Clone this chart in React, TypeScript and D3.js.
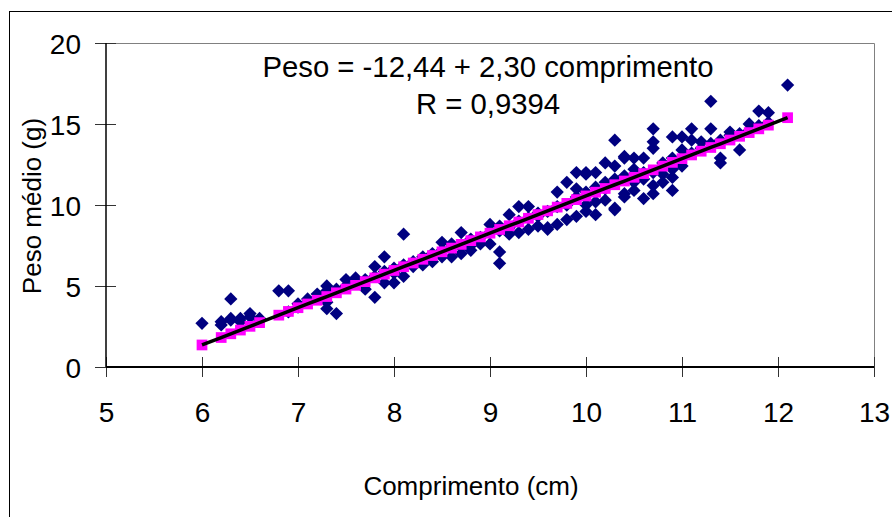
import React, { useRef, useEffect } from "react";
import * as d3 from "d3";

// observed points (comprimento cm, peso g)
const lengthCm = [
  6.0, 6.2, 6.2, 6.3, 6.3, 6.3, 6.4, 6.4, 6.5, 6.5, 6.6, 6.6,
  6.8, 6.9, 6.9, 7.0, 7.0, 7.1, 7.1, 7.2, 7.2, 7.3, 7.3, 7.3, 7.3,
  7.4, 7.4, 7.5, 7.5, 7.6, 7.6, 7.7, 7.7, 7.8, 7.8, 7.8, 7.9, 7.9, 7.9,
  8.0, 8.0, 8.0, 8.1, 8.1, 8.1, 8.2, 8.2, 8.3, 8.3, 8.4, 8.4,
  8.5, 8.5, 8.5, 8.6, 8.6, 8.6, 8.7, 8.7, 8.7, 8.8, 8.8, 8.8, 8.9, 8.9,
  9.0, 9.0, 9.0, 9.1, 9.1, 9.1, 9.1, 9.2, 9.2, 9.2, 9.3, 9.3, 9.3,
  9.4, 9.4, 9.4, 9.5, 9.5, 9.5, 9.6, 9.6, 9.6, 9.7, 9.7, 9.7,
  9.8, 9.8, 9.8, 9.9, 9.9, 9.9, 9.9, 10.0, 10.0, 10.0, 10.0, 10.0,
  10.1, 10.1, 10.1, 10.1, 10.2, 10.2, 10.2, 10.2, 10.3, 10.3, 10.3, 10.3, 10.3,
  10.4, 10.4, 10.4, 10.4, 10.4, 10.5, 10.5, 10.5, 10.5, 10.6, 10.6, 10.6, 10.6,
  10.7, 10.7, 10.7, 10.7, 10.7, 10.7, 10.8, 10.8, 10.8,
  10.9, 10.9, 10.9, 10.9, 10.9, 11.0, 11.0, 11.0, 11.1, 11.1, 11.1,
  11.2, 11.2, 11.3, 11.3, 11.3, 11.4, 11.4, 11.4, 11.5, 11.5, 11.6, 11.6,
  11.7, 11.7, 11.8, 11.8, 11.9, 11.9, 12.1,
];
const weightG = [
  2.7, 2.6, 2.8, 4.2, 3.0, 2.9, 3.0, 2.8, 3.3, 3.1, 3.0, 2.9,
  4.7, 4.7, 3.4, 3.7, 3.9, 4.0, 4.2, 4.5, 4.3, 5.0, 3.6, 4.0, 4.7,
  3.3, 4.8, 5.4, 5.0, 5.5, 5.2, 4.8, 5.4, 4.3, 6.2, 5.6, 6.8, 5.2, 5.9,
  5.2, 5.8, 6.1, 8.2, 6.3, 5.6, 6.2, 6.5, 6.3, 6.8, 6.5, 7.0,
  7.7, 6.8, 7.2, 6.8, 7.4, 7.6, 8.3, 7.4, 7.0, 7.2, 7.9, 7.5, 7.6, 8.0,
  8.8, 7.6, 8.3, 7.1, 6.4, 8.4, 8.7, 9.4, 8.2, 8.6, 9.9, 8.3, 9.0,
  9.9, 8.5, 9.2, 8.7, 9.5, 9.3, 8.5, 8.6, 9.6, 8.8, 10.8, 9.9,
  11.4, 9.1, 10.0, 9.3, 12.0, 10.5, 11.0, 9.6, 10.0, 11.9, 12.0, 10.8,
  9.4, 10.2, 12.0, 11.1, 10.3, 12.6, 11.4, 11.0, 14.0, 9.7, 9.8, 12.4, 11.6,
  10.7, 12.9, 10.5, 11.8, 13.0, 12.9, 12.2, 11.4, 10.9, 12.9, 10.4, 12.0, 11.6,
  14.7, 13.9, 13.5, 10.7, 11.2, 12.0, 11.4, 11.9, 12.6,
  10.9, 11.7, 12.2, 12.9, 14.2, 14.2, 12.4, 13.4, 14.7, 14.0, 13.2,
  13.9, 13.5, 16.4, 14.7, 13.8, 12.6, 12.9, 14.0, 14.5, 14.3, 13.4, 14.4,
  15.0, 14.6, 15.8, 14.9, 15.7, 15.1, 17.4,
];

// fitted values (Peso = -12,44 + 2,30 comprimento)
const fitLength = [
  6.0, 6.2, 6.3, 6.4, 6.5, 6.6, 6.8, 6.9, 7.0, 7.1, 7.2, 7.3, 7.4, 7.5,
  7.6, 7.7, 7.8, 7.9, 8.0, 8.1, 8.2, 8.3, 8.4, 8.5, 8.6, 8.7, 8.8, 8.9,
  9.0, 9.1, 9.2, 9.3, 9.4, 9.5, 9.6, 9.7, 9.8, 9.9, 10.0, 10.1, 10.2,
  10.3, 10.4, 10.5, 10.6, 10.7, 10.8, 10.9, 11.0, 11.1, 11.2, 11.3,
  11.4, 11.5, 11.6, 11.7, 11.8, 11.9, 12.1,
];
const fitWeight = [
  1.36, 1.82, 2.05, 2.28, 2.51, 2.74, 3.2, 3.43, 3.66, 3.89, 4.12, 4.35, 4.58, 4.81,
  5.04, 5.27, 5.5, 5.73, 5.96, 6.19, 6.42, 6.65, 6.88, 7.11, 7.34, 7.57, 7.8, 8.03,
  8.26, 8.49, 8.72, 8.95, 9.18, 9.41, 9.64, 9.87, 10.1, 10.33, 10.56, 10.79, 11.02,
  11.25, 11.48, 11.71, 11.94, 12.17, 12.4, 12.63, 12.86, 13.09, 13.32, 13.55,
  13.78, 14.01, 14.24, 14.47, 14.7, 14.93, 15.39,
];

const xTicks = [5, 6, 7, 8, 9, 10, 11, 12, 13];
const yTicks = [0, 5, 10, 15, 20];
const equationText = "Peso = -12,44 + 2,30 comprimento";
const rText = "R = 0,9394";

const FONT = "'Liberation Sans', Arial, sans-serif";

export default function App() {
  const svgRef = useRef<SVGSVGElement>(null);

  useEffect(() => {
    const w = 892;
    const h = 517;
    const m = { left: 106, right: 874, top: 43, bottom: 367 };

    const svg = d3.select(svgRef.current);
    svg.selectAll("*").remove();
    svg.attr("width", w).attr("height", h).style("background", "#fff");

    // outer chart frame
    svg.append("rect")
      .attr("x", 9.5).attr("y", 11.5)
      .attr("width", 1000).attr("height", 1000)
      .attr("fill", "none").attr("stroke", "#000");

    const xScale = d3.scaleLinear().domain([5, 13]).range([m.left, m.right]);
    const yScale = d3.scaleLinear().domain([0, 20]).range([m.bottom, m.top]);

    // plot area border (top + right)
    svg.append("path")
      .attr("d", `M${m.left},${m.top + 0.5}H${m.right + 0.5}V${m.bottom}`)
      .attr("fill", "none").attr("stroke", "#808080");

    // axes
    const xAxis = d3.axisBottom(xScale).tickValues(xTicks).tickSize(10).tickSizeOuter(0);
    const gx = svg.append("g").attr("transform", `translate(0,${m.bottom})`).call(xAxis);
    gx.select(".domain").remove();
    gx.selectAll(".tick line").attr("y1", -10).attr("y2", 10).attr("stroke", "#333");
    gx.selectAll(".tick text")
      .attr("y", 55).attr("dy", 0)
      .style("font-family", FONT).style("font-size", "28px").attr("fill", "#000");

    const yAxis = d3.axisLeft(yScale).tickValues(yTicks).tickSize(10).tickSizeOuter(0);
    const gy = svg.append("g").attr("transform", `translate(${m.left},0)`).call(yAxis);
    gy.select(".domain").remove();
    gy.selectAll(".tick line").attr("x1", -11).attr("x2", 10).attr("stroke", "#333");
    gy.selectAll(".tick text")
      .attr("x", -25).attr("dy", "0.36em")
      .style("font-family", FONT).style("font-size", "28px").attr("fill", "#000");

    svg.append("line")
      .attr("x1", m.left).attr("x2", m.left)
      .attr("y1", m.top).attr("y2", m.bottom)
      .attr("stroke", "#000").attr("stroke-width", 1.5);
    svg.append("line")
      .attr("x1", m.left).attr("x2", m.right)
      .attr("y1", m.bottom).attr("y2", m.bottom)
      .attr("stroke", "#000").attr("stroke-width", 2);

    // observed diamonds
    const diamond = d3.symbol(d3.symbolSquare, 88);
    svg.append("g").selectAll("path")
      .data(lengthCm.map((x, i) => [x, weightG[i]]))
      .join("path")
      .attr("d", diamond)
      .attr("transform", (d) => `translate(${xScale(d[0])},${yScale(d[1])}) rotate(45)`)
      .attr("fill", "#000080");

    // fitted squares
    const square = d3.symbol(d3.symbolSquare, 115);
    svg.append("g").selectAll("path")
      .data(fitLength.map((x, i) => [x, fitWeight[i]]))
      .join("path")
      .attr("d", square)
      .attr("transform", (d) => `translate(${xScale(d[0])},${yScale(d[1])})`)
      .attr("fill", "#ff00ff");

    // trend line
    const line = d3.line<number[]>().x((d) => xScale(d[0])).y((d) => yScale(d[1]));
    svg.append("path")
      .datum(fitLength.map((x, i) => [x, fitWeight[i]]))
      .attr("d", line)
      .attr("fill", "none").attr("stroke", "#000").attr("stroke-width", 3.5);

    // equation labels
    svg.append("text")
      .attr("x", 488).attr("y", 77).attr("text-anchor", "middle")
      .style("font-family", FONT).style("font-size", "29.3px")
      .text(equationText);
    svg.append("text")
      .attr("x", 488).attr("y", 114).attr("text-anchor", "middle")
      .style("font-family", FONT).style("font-size", "29.3px")
      .text(rText);

    // axis titles
    svg.append("text")
      .attr("x", 471).attr("y", 495).attr("text-anchor", "middle")
      .style("font-family", FONT).style("font-size", "26px")
      .text("Comprimento (cm)");
    svg.append("text")
      .attr("transform", "translate(41,206) rotate(-90)")
      .attr("text-anchor", "middle")
      .style("font-family", FONT).style("font-size", "26px")
      .text("Peso médio (g)");
  }, []);

  return (
    <div>
      <svg ref={svgRef} style={{ position: "absolute", left: 0, top: 0 }}></svg>
    </div>
  );
}
